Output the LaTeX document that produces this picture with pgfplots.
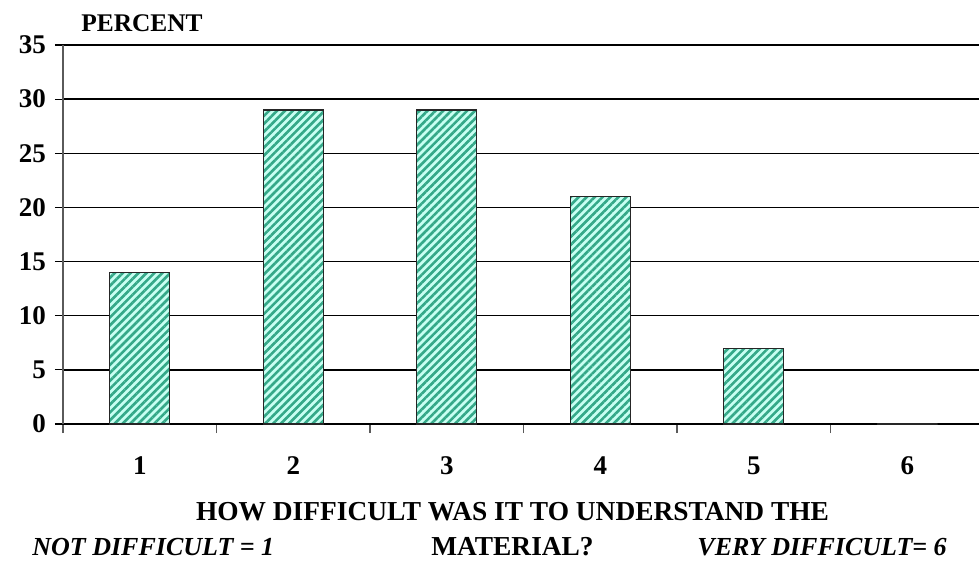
\documentclass[border=0pt]{standalone}
\usepackage{fontspec}
\setmainfont{Liberation Serif}
\usepackage{pgfplots}
\pgfplotsset{compat=1.18}
\usetikzlibrary{patterns.meta}
\definecolor{barbg}{RGB}{200,255,242}
\definecolor{barline}{RGB}{52,168,136}
\definecolor{axgray}{RGB}{90,90,90}

\begin{document}
\begin{tikzpicture}
\begin{axis}[
  width=458pt, height=189.5pt,
  scale only axis,
  xmin=0.5, xmax=6.467,
  ymin=0, ymax=35,
  axis x line=bottom, axis y line=left,
  x axis line style={black, line width=0.8pt, -},
  y axis line style={axgray, line width=0.6pt, -},
  ytick={0,5,...,35},
  xtick={1,2,3,4,5,6},
  minor xtick={0.5,1.5,...,5.5},
  major x tick style={draw=none},
  minor x tick style={axgray, line width=0.6pt},
  y tick style={black, line width=0.6pt},
  tick align=outside,
  major tick length=4pt, minor tick length=4.5pt,
  ymajorgrids,
  grid style={black, line width=0.7pt},
  /pgf/number format/assume math mode=true,
  ticklabel style={font=\fontsize{13.5}{16}\selectfont\bfseries},
  xticklabel style={yshift=-9pt},
  yticklabel style={xshift=-1pt},
  clip=false,
]
\addplot[ybar, bar width=30pt, fill=barbg, draw=black!85, line width=0.6pt,
  postaction={pattern={Lines[angle=45, distance=2.8pt, line width=1.3pt]}, pattern color=barline}]
  coordinates {(1,14) (2,29) (3,29) (4,21) (5,7) (6,0)};
\end{axis}
\node[anchor=base, font=\fontsize{12.7}{15}\selectfont\bfseries] at (39.5pt,196pt) {PERCENT};
\node[anchor=base, inner sep=0pt, font=\fontsize{13.7}{16}\selectfont\bfseries] at (224.75pt,-48pt) {HOW DIFFICULT WAS IT TO UNDERSTAND THE};
\node[anchor=base, inner sep=0pt, font=\fontsize{13.7}{16}\selectfont\bfseries] at (224.75pt,-65.5pt) {MATERIAL?};
\node[anchor=base west, inner sep=0pt, font=\fontsize{13}{16}\selectfont\bfseries\itshape] at (-15.5pt,-65.5pt) {NOT DIFFICULT = 1};
\node[anchor=base west, inner sep=0pt, font=\fontsize{13}{16}\selectfont\bfseries\itshape] at (317pt,-65.5pt) {VERY DIFFICULT= 6};
\pgfresetboundingbox
\useasboundingbox (-31.5pt,-69pt) rectangle (458pt,212pt);
\end{tikzpicture}
\end{document}
